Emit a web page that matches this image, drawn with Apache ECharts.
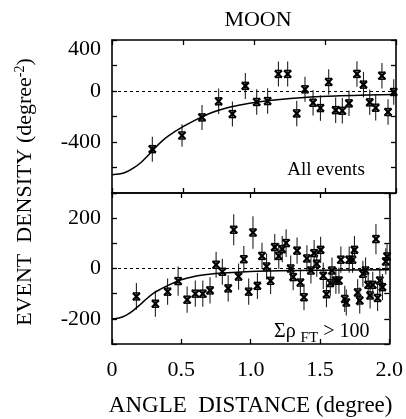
<!DOCTYPE html>
<html>
    <head>
        <meta charset="utf-8">
        <script src="https://cdn.jsdelivr.net/npm/echarts@6.0.0/dist/echarts.min.js"></script>
    </head>
    <body style="margin: 0; background: #fff;">
        <div id="main" style="width: 406px; height: 419px;"></div>
        <script>
            // points: [angle, density, error]
            var allEvents = [
                [0.284, -456, 98], [0.493, -349, 88], [0.634, -207, 98], [0.751, -81, 100],
                [0.848, -181, 98], [0.939, 40, 102], [1.019, -86, 100], [1.096, -79, 100],
                [1.172, 134, 98], [1.237, 134, 98], [1.301, -176, 100], [1.359, 13, 98],
                [1.416, -92, 100], [1.468, -134, 100], [1.526, 71, 100], [1.575, -150, 100],
                [1.622, -155, 100], [1.669, -97, 100], [1.725, 134, 100], [1.771, 50, 100],
                [1.815, -89, 100], [1.857, -131, 100], [1.901, 120, 100], [1.944, -165, 100],
                [1.984, -8, 100]
            ];
            var allEventsFit = [
                [0, -656], [0.05, -651], [0.1, -635], [0.15, -605], [0.2, -565], [0.25, -510],
                [0.3, -450], [0.35, -395], [0.4, -350], [0.5, -280], [0.6, -220], [0.7, -170],
                [0.8, -135], [0.9, -110], [1.0, -90], [1.2, -65], [1.4, -47], [1.6, -38],
                [1.8, -32], [2.0, -27]
            ];
            var ftEvents = [
                [0.176, -111, 53], [0.313, -140, 52], [0.401, -92, 52], [0.477, -50, 58],
                [0.542, -124, 52], [0.601, -100, 52], [0.655, -100, 52], [0.707, -87, 52],
                [0.751, 15, 52], [0.796, -13, 52], [0.838, -79, 52], [0.878, 154, 62],
                [0.913, -32, 52], [0.951, 37, 52], [0.986, -92, 52], [1.017, 143, 65],
                [1.049, -69, 52], [1.082, 50, 52], [1.115, 8, 52], [1.144, -49, 52],
                [1.174, 85, 52], [1.203, 50, 52], [1.228, 77, 52], [1.256, 101, 55],
                [1.289, 0, 52], [1.307, -34, 52], [1.335, 71, 52], [1.359, -56, 52],
                [1.385, -114, 52], [1.406, 40, 52], [1.435, -8, 52], [1.458, 61, 52],
                [1.477, 19, 52], [1.505, 74, 52], [1.524, -29, 52], [1.547, -102, 52],
                [1.575, -58, 52], [1.587, -8, 52], [1.615, -48, 52], [1.637, -48, 52],
                [1.651, 35, 52], [1.679, -121, 52], [1.690, -135, 52], [1.711, 35, 52],
                [1.735, 35, 52], [1.749, 74, 55], [1.772, -95, 52], [1.787, -127, 52],
                [1.81, -21, 52], [1.829, -8, 52], [1.848, -65, 52], [1.862, -107, 52],
                [1.881, -65, 52], [1.904, 117, 60], [1.916, -117, 52], [1.932, -48, 52],
                [1.951, -74, 52], [1.975, 28, 52], [1.984, 48, 52]
            ];
            var ftEventsFit = [
                [0, -201], [0.05, -197], [0.1, -186], [0.15, -168], [0.2, -145], [0.25, -120],
                [0.3, -98], [0.35, -82], [0.4, -68], [0.5, -45], [0.6, -31], [0.7, -23],
                [0.8, -18], [1.0, -12], [1.2, -9], [1.5, -7], [2.0, -5]
            ];
            var topLabels = [400, 0, -400];
            var bottomLabels = [200, 0, -200];

            var FONT = 'Liberation Serif';
            var chartDom = document.getElementById('main');
            var myChart = echarts.init(chartDom);

            function renderPoint(params, api) {
                var x = api.value(0), y = api.value(1), e = api.value(2);
                var p = api.coord([x, y]);
                var hi = api.coord([x, y + e]);
                var lo = api.coord([x, y - e]);
                var s = 3.5;
                var ink = { stroke: '#000', lineWidth: 2.2 };
                return {
                    type: 'group',
                    children: [
                        { type: 'line', shape: { x1: p[0], y1: hi[1], x2: p[0], y2: lo[1] }, style: { stroke: '#222', lineWidth: 1.1 } },
                        { type: 'line', shape: { x1: p[0] - s, y1: p[1] - s, x2: p[0] + s, y2: p[1] + s }, style: ink },
                        { type: 'line', shape: { x1: p[0] - s, y1: p[1] + s, x2: p[0] + s, y2: p[1] - s }, style: ink },
                        { type: 'line', shape: { x1: p[0] - s, y1: p[1] - s, x2: p[0] + s, y2: p[1] - s }, style: { stroke: '#000', lineWidth: 1.4 } },
                        { type: 'line', shape: { x1: p[0] - s, y1: p[1] + s, x2: p[0] + s, y2: p[1] + s }, style: { stroke: '#000', lineWidth: 1.4 } }
                    ]
                };
            }

            var frameLine = { show: true, onZero: false, lineStyle: { color: '#000', width: 1.6 } };
            var inTick = { show: true, inside: true, length: 5, lineStyle: { color: '#000', width: 1.3 } };

            function xAx(grid, pos, labels) {
                return {
                    type: 'value', gridIndex: grid, position: pos, min: 0, max: 2.0, interval: 0.5,
                    axisLine: frameLine, axisTick: inTick, splitLine: { show: false },
                    axisLabel: {
                        show: labels, margin: 15, color: '#000', fontFamily: FONT, fontSize: 22,
                        formatter: function (v) { return v === 0 ? '0' : v.toFixed(1); }
                    },
                    name: labels ? 'ANGLE  DISTANCE (degree)' : '',
                    nameLocation: 'middle', nameGap: 50,
                    nameTextStyle: { color: '#000', fontFamily: FONT, fontSize: 23 }
                };
            }

            function yAx(grid, pos, min, max, interval, shown) {
                return {
                    type: 'value', gridIndex: grid, position: pos, min: min, max: max, interval: interval,
                    axisLine: frameLine, axisTick: inTick, splitLine: { show: false },
                    axisLabel: {
                        show: !!shown, margin: 11, color: '#000', fontFamily: FONT, fontSize: 22,
                        formatter: function (v) {
                            if (!shown || shown.indexOf(v) < 0) return '';
                            return v === max ? '{low|' + v + '}' : String(v);
                        },
                        rich: { low: { fontFamily: FONT, fontSize: 22, color: '#000', padding: [18, 0, 0, 0] } }
                    }
                };
            }

            var zeroLine = {
                silent: true, symbol: 'none', label: { show: false },
                lineStyle: { color: '#000', type: [3, 3], width: 1 },
                data: [{ yAxis: 0 }]
            };

            var option = {
                animation: false,
                title: {
                    text: 'MOON', left: 253, top: 4, textAlign: 'center',
                    textStyle: { color: '#000', fontFamily: FONT, fontSize: 22, fontWeight: 'normal' }
                },
                grid: [
                    { left: 112, top: 40, width: 284, height: 153 },
                    { left: 112, top: 193, width: 284, height: 151 }
                ],
                xAxis: [xAx(0, 'bottom', false), xAx(0, 'top', false), xAx(1, 'bottom', true), xAx(1, 'top', false)],
                yAxis: [
                    yAx(0, 'left', -800, 400, 200, topLabels), yAx(0, 'right', -800, 400, 200, null),
                    yAx(1, 'left', -300, 300, 100, bottomLabels), yAx(1, 'right', -300, 300, 100, null)
                ],
                graphic: [
                    {
                        type: 'text', x: 25, y: 192, rotation: Math.PI / 2,
                        style: {
                            text: '{a|EVENT  DENSITY (degree}{s|-2}{a|)}',
                            align: 'center', verticalAlign: 'middle',
                            rich: {
                                a: { fontFamily: FONT, fontSize: 22, fill: '#000' },
                                s: { fontFamily: FONT, fontSize: 14, fill: '#000', verticalAlign: 'top', padding: [0, 0, 10, 0] }
                            }
                        }
                    },
                    {
                        type: 'text', x: 326, y: 170,
                        style: { text: 'All events', align: 'center', verticalAlign: 'middle', fontFamily: FONT, fontSize: 19, fill: '#000' }
                    },
                    {
                        type: 'text', x: 274, y: 332,
                        style: {
                            text: '{a|Σρ }{s|FT}{a| > 100}',
                            align: 'left', verticalAlign: 'middle',
                            rich: {
                                a: { fontFamily: FONT, fontSize: 20, fill: '#000' },
                                s: { fontFamily: FONT, fontSize: 15, fill: '#000', padding: [12, 0, 0, 0] }
                            }
                        }
                    }
                ],
                series: [
                    {
                        type: 'line', xAxisIndex: 0, yAxisIndex: 0, data: allEventsFit, smooth: 0.3,
                        showSymbol: false, lineStyle: { color: '#000', width: 1.5 }, markLine: zeroLine
                    },
                    { type: 'custom', xAxisIndex: 0, yAxisIndex: 0, data: allEvents, renderItem: renderPoint },
                    {
                        type: 'line', xAxisIndex: 2, yAxisIndex: 2, data: ftEventsFit, smooth: 0.3,
                        showSymbol: false, lineStyle: { color: '#000', width: 1.5 }, markLine: zeroLine
                    },
                    { type: 'custom', xAxisIndex: 2, yAxisIndex: 2, data: ftEvents, renderItem: renderPoint }
                ]
            };

            myChart.setOption(option);
        </script>
    </body>
</html>
